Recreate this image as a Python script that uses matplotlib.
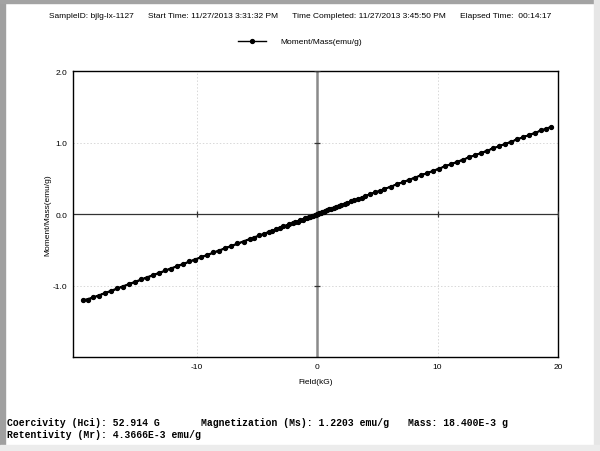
import matplotlib
matplotlib.use("Agg")
import matplotlib.pyplot as plt
from matplotlib.patches import Rectangle
from matplotlib.lines import Line2D

# ---- data ----
field_down = [19.4, 18.6, 17.6, 16.6, 15.6, 14.6, 13.6, 12.6, 11.6, 10.6, 9.6, 8.6, 7.6, 6.6,
              5.6, 4.8, 4.0, 3.4, 2.8, 2.3, 1.8, 1.4, 1.0, 0.7, 0.4, 0.2, 0.0, -0.2, -0.4,
              -0.7, -1.0, -1.4, -1.8, -2.3, -2.8, -3.4, -4.0, -4.8, -5.6, -6.6, -7.6, -8.6,
              -9.6, -10.6, -11.6, -12.6, -13.6, -14.6, -15.6, -16.6, -17.6, -18.6, -19.4]
moment_down = [1.220, 1.170, 1.107, 1.044, 0.981, 0.918, 0.855, 0.793, 0.730, 0.667, 0.604,
               0.541, 0.478, 0.415, 0.352, 0.302, 0.252, 0.214, 0.176, 0.145, 0.113, 0.088,
               0.063, 0.044, 0.025, 0.013, 0.004, -0.009, -0.021, -0.040, -0.059, -0.084,
               -0.109, -0.141, -0.172, -0.210, -0.248, -0.298, -0.348, -0.411, -0.474,
               -0.537, -0.600, -0.663, -0.726, -0.789, -0.851, -0.914, -0.977, -1.040,
               -1.103, -1.166, -1.205]
field_up = [-19.0, -18.1, -17.1, -16.1, -15.1, -14.1, -13.1, -12.1, -11.1, -10.1, -9.1, -8.1,
            -7.1, -6.1, -5.2, -4.4, -3.7, -3.1, -2.5, -2.0, -1.6, -1.2, -0.85, -0.55, -0.3,
            -0.1, 0.1, 0.3, 0.55, 0.85, 1.2, 1.6, 2.0, 2.5, 3.1, 3.7, 4.4, 5.2, 6.1, 7.1, 8.1,
            9.1, 10.1, 11.1, 12.1, 13.1, 14.1, 15.1, 16.1, 17.1, 18.1, 19.0]
moment_up = [-1.199, -1.142, -1.080, -1.017, -0.954, -0.891, -0.828, -0.765, -0.702, -0.639,
             -0.576, -0.513, -0.451, -0.388, -0.331, -0.281, -0.237, -0.199, -0.161, -0.130,
             -0.105, -0.079, -0.057, -0.039, -0.023, -0.010, 0.002, 0.015, 0.031, 0.049,
             0.071, 0.097, 0.122, 0.153, 0.191, 0.229, 0.273, 0.323, 0.380, 0.443, 0.505,
             0.568, 0.631, 0.694, 0.757, 0.820, 0.883, 0.946, 1.009, 1.072, 1.134, 1.191]

x_ticks = [-10, 0, 10, 20]
y_ticks = [-1.0, 0.0, 1.0, 2.0]
x_tick_labels = ["-10", "0", "10", "20"]
y_tick_labels = ["-1.0", "0.0", "1.0", "2.0"]

header = ("SampleID: bjlg-lx-1127      Start Time: 11/27/2013 3:31:32 PM      "
          "Time Completed: 11/27/2013 3:45:50 PM      Elapsed Time:  00:14:17")
series_name = "Moment/Mass(emu/g)"
x_label = "Field(kG)"
y_label = "Moment/Mass(emu/g)"
info_1a = "Coercivity (Hci): 52.914 G"
info_1b = "Magnetization (Ms): 1.2203 emu/g"
info_1c = "Mass: 18.400E-3 g"
info_2 = "Retentivity (Mr): 4.3666E-3 emu/g"

# ---- figure ----
W, H = 600, 452
fig = plt.figure(figsize=(6.0, 4.52), dpi=100)
fig.patch.set_facecolor("white")

def fx(px):
    return px / W

def fy(py):
    return 1 - py / H

# frame bands
fig.add_artist(Rectangle((0, 0), fx(5), 1, transform=fig.transFigure, color="#a0a0a0", zorder=0))
fig.add_artist(Rectangle((0, fy(4)), 1, 4 / H, transform=fig.transFigure, color="#a3a3a3", zorder=0))
fig.add_artist(Rectangle((fx(594), 0), fx(6), 1, transform=fig.transFigure, color="#e6e6e6", zorder=0))
fig.add_artist(Rectangle((0, 0), 1, 6 / H, transform=fig.transFigure, color="#ececec", zorder=0))

sans = ["Liberation Sans", "DejaVu Sans"]
mono = ["Liberation Mono", "DejaVu Sans Mono"]

ax = fig.add_axes([fx(73), fy(358), fx(558) - fx(73), fy(72) - fy(358)])
ax.set_xlim(-20.25, 20)
ax.set_ylim(-2, 2)

field = field_down + field_up
moment = moment_down + moment_up
ax.plot(field, moment, color="black", lw=1.2, marker="o", ms=2.8, zorder=5)

# grid & zero axes
for v in x_ticks:
    if v not in (0, 20):
        ax.axvline(v, color="#d8d8d8", lw=0.7, ls=(0, (1.5, 2)), zorder=1)
for v in y_ticks:
    if v not in (0.0, 2.0):
        ax.axhline(v, color="#d8d8d8", lw=0.7, ls=(0, (1.5, 2)), zorder=1)
ax.axvline(0, color="#8a8a8a", lw=1.8, zorder=2)
ax.axhline(0, color="#333333", lw=0.9, zorder=2)
xt = [v for v in x_ticks if v != 0]
yt = [v for v in y_ticks if v != 0]
ax.plot(xt, [0] * len(xt), ls="none", marker="|", ms=5, mew=0.9, color="#333333", zorder=3)
ax.plot([0] * len(yt), yt, ls="none", marker="_", ms=5, mew=0.9, color="#333333", zorder=3)

ax.set_xticks(x_ticks)
ax.set_xticklabels(x_tick_labels, family=sans, fontsize=6)
ax.set_yticks(y_ticks)
ax.set_yticklabels(y_tick_labels, family=sans, fontsize=6)
ax.tick_params(length=0, pad=4)
for s in ax.spines.values():
    s.set_linewidth(1.0)
    s.set_color("black")

fig.text(fx(316), fy(383), x_label, family=sans, fontsize=6, ha="center", va="center")
fig.text(fx(48), fy(215), y_label, family=sans, fontsize=6, ha="center", va="center", rotation=90)

# header
fig.text(fx(300), fy(16), header, family=sans, fontsize=6, ha="center", va="center")
# legend
fig.add_artist(Line2D([fx(238), fx(266)], [fy(42), fy(42)], transform=fig.transFigure,
                      color="black", lw=1.0, marker=None))
fig.add_artist(Line2D([fx(252)], [fy(42)], transform=fig.transFigure,
                      color="black", marker="o", ms=2.8))
fig.text(fx(280), fy(42), series_name, family=sans, fontsize=6, ha="left", va="center")

# bottom info
fig.text(fx(7), fy(423), info_1a, family=mono, fontsize=7, weight="bold", ha="left", va="center")
fig.text(fx(201), fy(423), info_1b, family=mono, fontsize=7, weight="bold", ha="left", va="center")
fig.text(fx(408), fy(423), info_1c, family=mono, fontsize=7, weight="bold", ha="left", va="center")
fig.text(fx(7), fy(435), info_2, family=mono, fontsize=7, weight="bold", ha="left", va="center")

fig.savefig("out.png", dpi=100, facecolor=fig.get_facecolor())
